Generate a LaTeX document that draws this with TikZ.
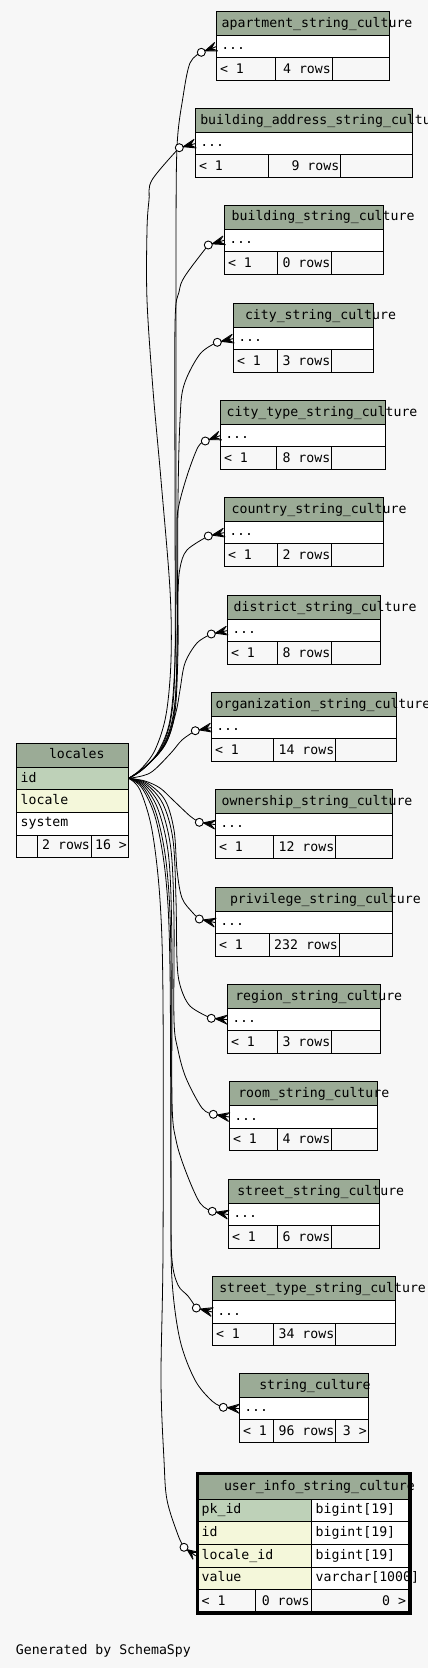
\documentclass[tikz,border=0pt]{standalone}
\usepackage{fontspec}
\setmonofont{DejaVu Sans Mono}
\usetikzlibrary{calc}
\pgfdeclarelayer{bglayer}
\pgfdeclarelayer{edgelayer}
\pgfsetlayers{bglayer,edgelayer,main}
\definecolor{bgc}{HTML}{F7F7F7}
\definecolor{hdrc}{HTML}{9BAB96}
\definecolor{pkc}{HTML}{BED1B8}
\definecolor{idxc}{HTML}{F4F7DA}
\tikzset{
 txt/.style={inner sep=0pt, outer sep=0pt, font=\ttfamily\fontsize{13.2}{14}\selectfont, text=black},
 tl/.style={txt, anchor=base west},
 tr/.style={txt, anchor=base east},
 grid/.style={draw=black, line width=1pt},
 rel/.style={draw=black, line width=0.8pt},
 crowline/.style={draw=black, line width=0.9pt},
 dotc/.style={circle, draw=black, fill=white, line width=0.9pt, minimum size=8pt, inner sep=0pt},
}
\newcommand\smalltab[9]{%
  \fill[hdrc] (#3,#4) rectangle (#5,#4+24);
  \fill[white] (#3,#4+24) rectangle (#5,#4+46.6);
  \fill[bgc] (#3,#4+46.6) rectangle (#5,#4+69.2);
  \node[tl] (#1-title) at (#9,#4+15.7) {#2};
  \node[tl] (#1-dots) at (#3+5,#4+38.6) {...};
  \node[tl] (#1-lt) at (#3+3.7,#4+62) {< 1};
  \node[tr] (#1-rows) at (#7-1.5,#4+62) {#8};
  \draw[grid] (#3,#4) rectangle (#5,#4+69.2) (#3,#4+24) -- (#5,#4+24)
     (#3,#4+46.6) -- (#5,#4+46.6) (#6,#4+46.6) -- (#6,#4+69.2) (#7,#4+46.6) -- (#7,#4+69.2);
  \coordinate (#1-T) at (#3,#4+35.3);
}
\newcommand\crowfoot[2]{%
  \fill[black] ($(#1.center)!4pt!(#2)$) -- ($(#2)!4pt!90:(#1.center)$)
    -- ($(#2)!4.5pt!(#1.center)$) -- ($(#2)!4pt!-90:(#1.center)$) -- cycle;
  \draw[crowline] ($(#1.center)!4pt!(#2)$) -- (#2)
    ($(#1.center)!4pt!(#2)$) -- ($(#2)!4.5pt!90:(#1.center)$)
    ($(#1.center)!4pt!(#2)$) -- ($(#2)!4.5pt!-90:(#1.center)$);
}
\begin{document}
\begin{tikzpicture}[x=1pt,y=-1pt]
\begin{pgfonlayer}{bglayer}
\fill[bgc] (0,0) rectangle (428,1668);
\end{pgfonlayer}
\useasboundingbox (0,0) rectangle (428,1668);

% small tables
\smalltab{apt}{apartment\_string\_culture}{216.3}{11.3}{389.7}{275.7}{332.3}{4 rows}{221.7}
\smalltab{bad}{building\_address\_string\_culture}{195.3}{108.3}{412.7}{268.3}{340.7}{9 rows}{200.3}
\smalltab{bld}{building\_string\_culture}{224.3}{205}{383.7}{277.3}{331.7}{0 rows}{231.7}
\smalltab{cty}{city\_string\_culture}{233.3}{303.3}{373.7}{277.3}{331.7}{3 rows}{245}
\smalltab{ctt}{city\_type\_string\_culture}{220.3}{400.3}{385.7}{276.7}{331.7}{8 rows}{226.7}
\smalltab{cou}{country\_string\_culture}{224.3}{497.3}{383.7}{277.3}{331.7}{2 rows}{231.7}
\smalltab{dis}{district\_string\_culture}{227.3}{595.3}{380.3}{277.3}{331.7}{8 rows}{233.7}
\smalltab{org}{organization\_string\_culture}{211.3}{692.3}{396.3}{273.3}{335.7}{14 rows}{215.7}
\smalltab{own}{ownership\_string\_culture}{215.3}{789.3}{392.3}{273.3}{335.7}{12 rows}{221.7}
\smalltab{pri}{privilege\_string\_culture}{215.3}{887.3}{392.3}{269.3}{339.3}{232 rows}{230}
\smalltab{reg}{region\_string\_culture}{227.3}{984.3}{380.3}{277.3}{331.7}{3 rows}{235.3}
\smalltab{roo}{room\_string\_culture}{229.3}{1081.7}{377.3}{277.3}{331.7}{4 rows}{238.3}
\smalltab{str}{street\_string\_culture}{228.3}{1179.3}{379.3}{277.3}{331.7}{6 rows}{237.3}
\smalltab{stt}{street\_type\_string\_culture}{212.3}{1276.7}{395.3}{273.3}{335.7}{34 rows}{219.3}
\smalltab{stc}{string\_culture}{239.3}{1373.3}{368.3}{273.3}{335.7}{96 rows}{259.3}
\node[tr] (stc-r) at (366.8,1435.3) {3 >};

% locales
\fill[hdrc] (16.3,743.3) rectangle (128.7,767.3);
\fill[pkc] (16.3,767.3) rectangle (128.7,789.3);
\fill[idxc] (16.3,789.3) rectangle (128.7,812.3);
\fill[white] (16.3,812.3) rectangle (128.7,835.3);
\fill[bgc] (16.3,835.3) rectangle (128.7,857.3);
\node[tl] (loc-title) at (49,758.8) {locales};
\node[tl] (loc-id) at (20.7,782.3) {id};
\node[tl] (loc-locale) at (20.7,804.2) {locale};
\node[tl] (loc-system) at (20.7,826.6) {system};
\node[tr] (loc-rows) at (89.9,849.6) {2 rows};
\node[tr] (loc-right) at (126.9,849.6) {16 >};
\draw[grid] (16.3,743.3) rectangle (128.7,857.3)
  (16.3,767.3) -- (128.7,767.3) (16.3,789.3) -- (128.7,789.3)
  (16.3,812.3) -- (128.7,812.3) (16.3,835.3) -- (128.7,835.3)
  (37.7,835.3) -- (37.7,857.3) (91.7,835.3) -- (91.7,857.3);
\coordinate (locid) at (128.7,778.3);

% user_info_string_culture
\fill[hdrc] (197.3,1473.7) rectangle (410,1499);
\fill[pkc] (197.3,1499) rectangle (311.7,1521.3);
\fill[idxc] (197.3,1521.3) rectangle (311.7,1589.3);
\fill[white] (311.7,1499) rectangle (410,1589.3);
\fill[bgc] (197.3,1589.3) rectangle (410,1613);
\node[tl] (ui-title) at (224,1490) {user\_info\_string\_culture};
\node[tl] (ui-pk) at (201.7,1513.4) {pk\_id};
\node[tl] (ui-id) at (201.7,1536.3) {id};
\node[tl] (ui-loc) at (201.7,1559.2) {locale\_id};
\node[tl] (ui-val) at (201.7,1581.6) {value};
\node[tl] (ui-pkt) at (315.7,1513.4) {bigint[19]};
\node[tl] (ui-idt) at (315.7,1536.3) {bigint[19]};
\node[tl] (ui-loct) at (315.7,1559.2) {bigint[19]};
\node[tl] (ui-valt) at (315.7,1581.6) {varchar[1000]};
\node[tl] (ui-lt) at (201.7,1605) {< 1};
\node[tr] (ui-rows) at (309.5,1605) {0 rows};
\node[tr] (ui-right) at (406,1605) {0 >};
\draw[grid] (197.3,1499) -- (410,1499) (197.3,1521.3) -- (410,1521.3)
  (197.3,1544.3) -- (410,1544.3) (197.3,1567.3) -- (410,1567.3)
  (197.3,1589.3) -- (410,1589.3) (311.7,1499) -- (311.7,1613)
  (255.3,1589.3) -- (255.3,1613);
\draw[black, line width=3.3pt] (197.3,1473.7) rectangle (410,1613);
\coordinate (ui-T) at (195.7,1555.8);

% circles
\node[dotc] (oA) at (201.3,52.3) {};
\node[dotc] (oB) at (179.3,147.7) {};
\node[dotc] (oC) at (208.3,245) {};
\node[dotc] (oD) at (217.3,342.3) {};
\node[dotc] (oE) at (205.3,441) {};
\node[dotc] (oF) at (208.3,536) {};
\node[dotc] (oG) at (211.3,634) {};
\node[dotc] (oH) at (195.3,730.7) {};
\node[dotc] (oI) at (199.3,822.3) {};
\node[dotc] (oJ) at (199.3,919) {};
\node[dotc] (oK) at (211.3,1018.3) {};
\node[dotc] (oL) at (213.3,1114.3) {};
\node[dotc] (oM) at (212.3,1211.3) {};
\node[dotc] (oN) at (196.3,1308) {};
\node[dotc] (oO) at (223.3,1407.3) {};
\node[dotc] (oP) at (184,1547.3) {};

% crow's feet
\crowfoot{oA}{apt-T}
\crowfoot{oB}{bad-T}
\crowfoot{oC}{bld-T}
\crowfoot{oD}{cty-T}
\crowfoot{oE}{ctt-T}
\crowfoot{oF}{cou-T}
\crowfoot{oG}{dis-T}
\crowfoot{oH}{org-T}
\crowfoot{oI}{own-T}
\crowfoot{oJ}{pri-T}
\crowfoot{oK}{reg-T}
\crowfoot{oL}{roo-T}
\crowfoot{oM}{str-T}
\crowfoot{oN}{stt-T}
\crowfoot{oO}{stc-T}
\crowfoot{oP}{ui-T}

% relationships
\begin{pgfonlayer}{edgelayer}
\draw[rel] plot[smooth,tension=0.55] coordinates {(locid) (142,770) (158,752) (170,720) (175,660) (176,560) (176,400) (176,250) (177,147) (183,97) (190,63) (oA.center)};
\draw[rel] plot[smooth,tension=0.55] coordinates {(locid) (141,769) (155,750) (166,715) (171,660) (170,590) (161,480) (153,390) (147,300) (147,230) (149,200) (152,180) (oB.center)};
\draw[rel] plot[smooth,tension=0.55] coordinates {(locid) (143,769) (160,750) (171,718) (175,660) (175,500) (175,325) (179,292) (185,276) (oC.center)};
\draw[rel] plot[smooth,tension=0.55] coordinates {(locid) (144,768) (162,748) (173,716) (177,660) (178,500) (180,420) (184,385) (200,354) (oD.center)};
\draw[rel] plot[smooth,tension=0.55] coordinates {(locid) (144,768) (163,747) (174,714) (177,650) (177,540) (178,510) (187,476) (198,447) (oE.center)};
\draw[rel] plot[smooth,tension=0.55] coordinates {(locid) (145,767) (165,745) (175,712) (178,650) (178,595) (180,568) (187,550) (oF.center)};
\draw[rel] plot[smooth,tension=0.55] coordinates {(locid) (146,766) (166,743) (176,712) (180,690) (185,663) (197,643) (oG.center)};
\draw[rel] plot[smooth,tension=0.55] coordinates {(locid) (150,773) (170,754) (182,740) (oH.center)};
\draw[rel] plot[smooth,tension=0.55] coordinates {(locid) (145,781) (160,788) (173,800) (190,816) (oI.center)};
\draw[rel] plot[smooth,tension=0.55] coordinates {(locid) (147,783) (165,800) (174,830) (177,870) (182,898) (193,913) (oJ.center)};
\draw[rel] plot[smooth,tension=0.55] coordinates {(locid) (146,784) (163,804) (173,840) (176,900) (177,960) (180,985) (190,1006) (oK.center)};
\draw[rel] plot[smooth,tension=0.55] coordinates {(locid) (145,785) (161,808) (171,850) (174,920) (174,1020) (178,1050) (186,1078) (202,1108) (oL.center)};
\draw[rel] plot[smooth,tension=0.55] coordinates {(locid) (144,786) (159,812) (169,860) (172,950) (172,1100) (176,1140) (186,1172) (200,1203) (oM.center)};
\draw[rel] plot[smooth,tension=0.55] coordinates {(locid) (143,787) (157,816) (167,870) (171,960) (171,1200) (172,1260) (178,1285) (188,1296) (oN.center)};
\draw[rel] plot[smooth,tension=0.55] coordinates {(locid) (142,788) (156,820) (166,880) (170,970) (171,1200) (172,1280) (180,1340) (195,1380) (212,1401) (oO.center)};
\draw[rel] plot[smooth,tension=0.55] coordinates {(locid) (140,790) (152,830) (160,900) (163,1000) (163,1250) (161,1380) (164,1460) (167,1500) (178,1535) (oP.center)};
\end{pgfonlayer}

\node[tl] (gen) at (16,1654) {Generated by SchemaSpy};
\end{tikzpicture}
\end{document}
